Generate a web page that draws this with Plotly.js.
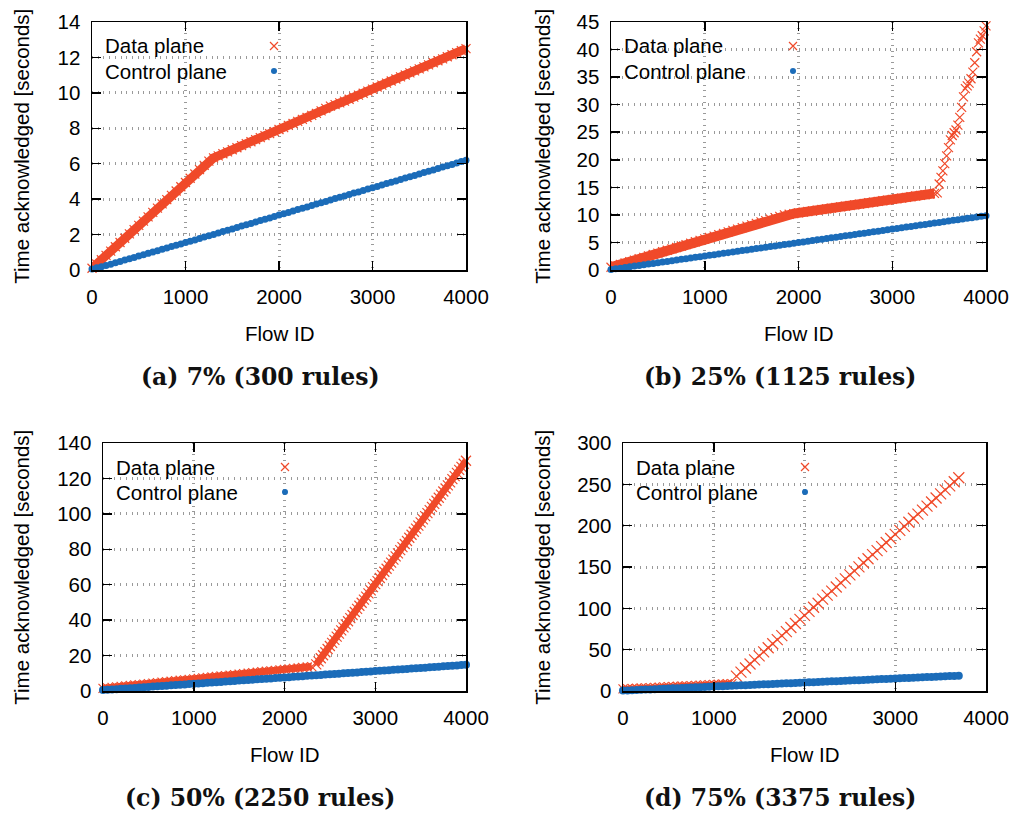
<!DOCTYPE html>
<html><head><meta charset="utf-8">
<script src="https://cdn.plot.ly/plotly-3.0.1.min.js"></script>
<style>html,body{margin:0;padding:0;background:#fff;}#chart{width:1021px;height:814px;}</style>
</head><body><div id="chart"></div>
<script>
// ---------------- data ----------------
const flowIds = [0,50,100,150,200,250,300,350,400,450,500,550,600,650,700,750,800,850,900,950,
  1000,1050,1100,1150,1200,1250,1300,1350,1400,1450,1500,1550,1600,1650,1700,1750,1800,1850,1900,1950,
  2000,2050,2100,2150,2200,2250,2300,2350,2400,2450,2500,2550,2600,2650,2700,2750,2800,2850,2900,2950,
  3000,3050,3100,3150,3200,3250,3300,3350,3400,3450,3500,3550,3600,3650,3700,3750,3800,3850,3900,3950,4000];

// (a) 7% (300 rules)
const dataA = [0.10,0.34,0.58,0.83,1.07,1.31,1.55,1.79,2.04,2.28,2.52,2.76,3.00,3.25,3.49,3.73,3.97,4.21,4.46,4.70,
  4.94,5.18,5.42,5.67,5.91,6.15,6.33,6.44,6.56,6.67,6.79,6.90,7.02,7.13,7.24,7.36,7.47,7.59,7.70,7.81,
  7.93,8.04,8.16,8.27,8.39,8.50,8.61,8.73,8.84,8.98,9.12,9.25,9.34,9.43,9.53,9.64,9.76,9.87,9.98,10.10,
  10.21,10.33,10.44,10.55,10.67,10.78,10.90,11.01,11.13,11.24,11.35,11.47,11.58,11.70,11.81,11.92,12.04,12.15,12.27,12.38,12.50];
const ctrlA = [0.05,0.12,0.19,0.26,0.33,0.41,0.48,0.56,0.63,0.71,0.79,0.86,0.94,1.01,1.09,1.17,1.24,1.32,1.40,1.47,
  1.55,1.63,1.70,1.78,1.86,1.94,2.01,2.09,2.17,2.25,2.32,2.40,2.48,2.56,2.63,2.71,2.79,2.87,2.94,3.02,
  3.10,3.17,3.25,3.33,3.41,3.48,3.56,3.64,3.72,3.79,3.87,3.95,4.03,4.10,4.18,4.26,4.34,4.41,4.49,4.57,
  4.65,4.72,4.80,4.88,4.96,5.03,5.11,5.19,5.27,5.34,5.42,5.50,5.58,5.65,5.73,5.81,5.89,5.96,6.04,6.12,6.20];

// (b) 25% (1125 rules)
const dataBFlat = [0.50,0.76,1.01,1.27,1.53,1.78,2.04,2.30,2.55,2.81,3.07,3.32,3.58,3.84,4.09,4.35,4.61,4.86,5.12,5.38,
  5.64,5.89,6.15,6.41,6.66,6.92,7.18,7.43,7.69,7.95,8.20,8.46,8.72,8.97,9.23,9.49,9.74,10.00,10.12,10.24,
  10.37,10.49,10.61,10.73,10.85,10.98,11.10,11.22,11.34,11.46,11.59,11.71,11.83,11.95,12.07,12.20,12.32,12.44,12.56,12.68,
  12.81,12.93,13.05,13.17,13.29,13.42,13.54,13.66,13.78,13.90];
const flowsBSteep = [3480,3500,3520,3540,3560,3580,3600,3620,3640,3660,3680,3700,3720,3740,3760,3780,3800,3820,3840,3860,3880,3900,3920,3940,3960,3980,4000];
const dataBSteep = [14.0,15.6,16.8,18.0,19.3,20.7,22.2,23.6,24.4,24.9,25.4,26.3,27.7,29.5,31.4,32.9,33.4,33.9,34.7,35.9,37.6,39.6,41.2,41.9,42.5,43.4,44.3];
const ctrlB = [0.10,0.22,0.34,0.47,0.59,0.71,0.83,0.95,1.08,1.20,1.32,1.44,1.56,1.69,1.81,1.93,2.05,2.17,2.30,2.42,
  2.54,2.66,2.78,2.91,3.03,3.15,3.27,3.39,3.52,3.64,3.76,3.88,4.00,4.13,4.25,4.37,4.49,4.61,4.74,4.86,
  4.98,5.10,5.22,5.35,5.47,5.59,5.71,5.83,5.96,6.08,6.20,6.32,6.44,6.57,6.69,6.81,6.93,7.05,7.18,7.30,
  7.42,7.54,7.66,7.79,7.91,8.03,8.15,8.27,8.40,8.52,8.64,8.76,8.88,9.01,9.13,9.25,9.37,9.49,9.62,9.74,9.86];

// (c) 50% (2250 rules)
const dataCFlat = [1.50,1.77,2.03,2.30,2.57,2.84,3.10,3.37,3.64,3.91,4.17,4.44,4.71,4.98,5.24,5.51,5.78,6.05,6.31,6.58,
  6.85,7.12,7.38,7.65,7.92,8.19,8.45,8.72,8.99,9.25,9.52,9.79,10.06,10.32,10.59,10.86,11.13,11.39,11.66,11.93,
  12.20,12.46,12.73,13.00,13.27,13.53,13.80];
const flowsCSteep = [2350,2375,2400,2425,2450,2475,2500,2525,2550,2575,2600,2625,2650,2675,2700,2725,2750,2775,2800,2825,
  2850,2875,2900,2925,2950,2975,3000,3025,3050,3075,3100,3125,3150,3175,3200,3225,3250,3275,3300,3325,
  3350,3375,3400,3425,3450,3475,3500,3525,3550,3575,3600,3625,3650,3675,3700,3725,3750,3775,3800,3825,
  3850,3875,3900,3925,3950,3975,4000];
const dataCSteep = [15.0,16.7,18.5,20.2,21.9,23.7,25.4,27.2,28.9,30.7,32.4,34.2,35.9,37.6,39.4,41.1,42.9,44.6,46.4,48.1,
  49.8,51.6,53.3,55.1,56.8,58.6,60.3,62.0,63.8,65.5,67.3,69.0,70.8,72.5,74.2,76.0,77.7,79.5,81.2,83.0,
  84.7,86.5,88.2,89.9,91.7,93.4,95.2,96.9,98.7,100.4,102.1,103.9,105.6,107.4,109.1,110.9,112.6,114.3,116.1,117.8,
  119.6,121.3,123.1,124.8,126.5,128.3,130.0];
const ctrlC = [0.50,0.68,0.86,1.04,1.22,1.39,1.57,1.75,1.93,2.11,2.29,2.47,2.65,2.82,3.00,3.18,3.36,3.54,3.72,3.90,
  4.08,4.25,4.43,4.61,4.79,4.97,5.15,5.33,5.51,5.68,5.86,6.04,6.22,6.40,6.58,6.76,6.94,7.11,7.29,7.47,
  7.65,7.83,8.01,8.19,8.37,8.54,8.72,8.90,9.08,9.26,9.44,9.62,9.80,9.97,10.15,10.33,10.51,10.69,10.87,11.05,
  11.23,11.40,11.58,11.76,11.94,12.12,12.30,12.48,12.66,12.83,13.01,13.19,13.37,13.55,13.73,13.91,14.09,14.26,14.44,14.62,14.80];

// (d) 75% (3375 rules)
const dataDFlat = [2.50,2.77,3.04,3.31,3.58,3.85,4.13,4.40,4.67,4.94,5.21,5.48,5.75,6.02,6.29,6.56,6.83,7.10,7.38,7.65,
  7.92,8.19,8.46,8.73,9.00];
const dataDSteep = [18.0,22.9,27.8,32.7,37.6,42.5,47.4,52.3,57.2,62.1,67.0,71.9,76.8,81.7,86.6,91.5,96.4,101.3,106.2,111.1,
  116.0,120.9,125.8,130.7,135.6,140.4,145.3,150.2,155.1,160.0,164.9,169.8,174.7,179.6,184.5,189.4,194.3,199.2,204.1,209.0,
  213.9,218.8,223.7,228.6,233.5,238.4,243.3,248.2,253.1,258.0];
const ctrlD = [0.50,0.74,0.99,1.23,1.47,1.72,1.96,2.20,2.45,2.69,2.93,3.18,3.42,3.66,3.91,4.15,4.39,4.64,4.88,5.12,
  5.37,5.61,5.85,6.09,6.34,6.58,6.82,7.07,7.31,7.55,7.80,8.04,8.28,8.53,8.77,9.01,9.26,9.50,9.74,9.99,
  10.23,10.47,10.72,10.96,11.20,11.45,11.69,11.93,12.18,12.42,12.66,12.91,13.15,13.39,13.64,13.88,14.12,14.37,14.61,14.85,
  15.10,15.34,15.58,15.82,16.07,16.31,16.55,16.80,17.04,17.28,17.53,17.77,18.01,18.26,18.50];

const captions = ['(a) 7% (300 rules)', '(b) 25% (1125 rules)', '(c) 50% (2250 rules)', '(d) 75% (3375 rules)'];
const seriesNames = ['Data plane', 'Control plane'];
const yMax = [14, 45, 140, 300];
const yStep = [2, 5, 20, 50];
const xTitle = 'Flow ID';
const yTitle = 'Time acknowledged [seconds]';

// ---------------- layout ----------------
const W = 1021, H = 814;
const RED = '#f04a2a', BLUE = '#1b6cb9';
const px = v => v / W, py = v => 1 - v / H;

// plot boxes in pixels (left, right, top, bottom)
const boxes = [
  {l: 92,  r: 466, t: 22,  b: 270},
  {l: 611, r: 986, t: 22,  b: 270},
  {l: 103, r: 466, t: 443, b: 691},
  {l: 623, r: 986, t: 443, b: 691}
];

// dense parts of the data-plane series get a solid band underneath the crosses
const dataSeries = [
  [{x: flowIds, y: dataA, band: 9, ms: 9}],
  [{x: flowIds.slice(0, 70), y: dataBFlat, band: 10, ms: 9}, {x: flowsBSteep, y: dataBSteep, band: 0, ms: 9}],
  [{x: flowIds.slice(0, 47), y: dataCFlat, band: 7, ms: 9}, {x: flowsCSteep, y: dataCSteep, band: 7, ms: 10}],
  [{x: flowIds.slice(0, 25), y: dataDFlat, band: 6, ms: 9}, {x: flowIds.slice(25, 75), y: dataDSteep, band: 0, ms: 11}]
];
const ctrlSize = [7, 7, 8, 8];
const ctrlSeries = [
  {x: flowIds, y: ctrlA},
  {x: flowIds, y: ctrlB},
  {x: flowIds, y: ctrlC},
  {x: flowIds.slice(0, 75), y: ctrlD}
];

const FONT = 'Liberation Sans, Arial, sans-serif';
const traces = [];
const layout = {
  width: W, height: H,
  margin: {l: 0, r: 0, t: 0, b: 0},
  paper_bgcolor: '#fff', plot_bgcolor: '#fff',
  showlegend: true,
  font: {family: FONT, size: 20.5, color: '#000'},
  annotations: [], shapes: []
};

boxes.forEach((bx, i) => {
  const n = i === 0 ? '' : String(i + 1);
  const xa = 'x' + n, ya = 'y' + n, lg = 'legend' + n;
  const axCommon = {
    showline: true, linecolor: '#000', linewidth: 1.5, mirror: 'allticks',
    ticks: 'inside', ticklen: 9, tickwidth: 1.5, tickcolor: '#000',
    showgrid: true, gridcolor: '#9a9a9a', gridwidth: 3, griddash: '1px,4.7px',
    zeroline: false, fixedrange: true, layer: 'above traces',
    tickfont: {family: FONT, size: 20.5, color: '#000'}
  };
  layout['xaxis' + n] = Object.assign({}, axCommon, {
    domain: [px(bx.l), px(bx.r)], anchor: ya, range: [0, 4000],
    tick0: 0, dtick: 1000, ticklabelstandoff: 8
  });
  layout['yaxis' + n] = Object.assign({}, axCommon, {
    domain: [py(bx.b), py(bx.t)], anchor: xa, range: [0, yMax[i]],
    tick0: 0, dtick: yStep[i], ticklabelstandoff: 6
  });

  let legendDone = false;
  dataSeries[i].forEach((s) => {
    if (s.band) {
      traces.push({
        type: 'scatter', mode: 'lines', x: s.x, y: s.y, xaxis: xa, yaxis: ya,
        name: seriesNames[0], showlegend: false, hoverinfo: 'skip', cliponaxis: false,
        line: {color: RED, width: s.band}
      });
    }
    traces.push({
      type: 'scatter', mode: 'markers', x: s.x, y: s.y, xaxis: xa, yaxis: ya,
      name: '', legend: lg, showlegend: false, hoverinfo: 'x+y', cliponaxis: false,
      marker: {symbol: 'x-thin-open', size: s.ms, color: RED, line: {width: 1.2, color: RED}}
    });
  });
  // legend keys (no data of their own; they only carry the key symbol style)
  traces.push({
    type: 'scatter', mode: 'markers', x: [null], y: [null], xaxis: xa, yaxis: ya,
    name: '', legend: lg, showlegend: true, hoverinfo: 'skip',
    marker: {symbol: 'x-thin-open', size: 8, color: RED, line: {width: 1.2, color: RED}}
  });
  traces.push({
    type: 'scatter', mode: 'markers', x: ctrlSeries[i].x, y: ctrlSeries[i].y, xaxis: xa, yaxis: ya,
    name: '', legend: lg, showlegend: false, hoverinfo: 'x+y', cliponaxis: false,
    marker: {symbol: 'circle', size: ctrlSize[i], color: BLUE, line: {width: 0}}
  });
  traces.push({
    type: 'scatter', mode: 'markers', x: [null], y: [null], xaxis: xa, yaxis: ya,
    name: '', legend: lg, showlegend: true, hoverinfo: 'skip',
    marker: {symbol: 'circle', size: 6, color: BLUE, line: {width: 0}}
  });

  // key: text on the left, symbol on the right (gnuplot style)
  const symX = bx.l + 182, y1 = bx.t + 24, y2 = bx.t + 49;
  layout[lg] = {
    x: px(symX - 20), xanchor: 'left', y: py(y1 - 17.55), yanchor: 'top',
    bgcolor: 'rgba(0,0,0,0)', borderwidth: 0, font: {size: 17, family: FONT},
    tracegroupgap: 0, traceorder: 'normal', itemclick: false, itemdoubleclick: false,
    itemsizing: 'trace'
  };
  layout.shapes.push({
    type: 'rect', xref: 'paper', yref: 'paper', layer: 'between',
    x0: px(bx.l + 1), x1: px(symX + 18), y0: py(bx.t + 66), y1: py(bx.t + 1),
    fillcolor: '#fff', line: {width: 0}
  });
  [y1, y2].forEach((yy, k) => layout.annotations.push({
    xref: 'paper', yref: 'paper', x: px(bx.l + 11), y: py(yy), xanchor: 'left', yanchor: 'middle',
    text: seriesNames[k], showarrow: false, font: {family: FONT, size: 20.5, color: '#000'}
  }));

  // axis titles
  layout.annotations.push({
    xref: 'paper', yref: 'paper', x: px(i % 2 === 0 ? 20.7 : 541.7), y: py((bx.t + bx.b) / 2),
    xanchor: 'center', yanchor: 'middle', textangle: -90, text: yTitle, showarrow: false,
    font: {family: FONT, size: 20.5, color: '#000'}
  });
  layout.annotations.push({
    xref: 'paper', yref: 'paper', x: px((bx.l + bx.r) / 2), y: py(bx.b + 63.5),
    xanchor: 'center', yanchor: 'middle', text: xTitle, showarrow: false,
    font: {family: FONT, size: 20.5, color: '#000'}
  });
  // caption
  layout.annotations.push({
    xref: 'paper', yref: 'paper', x: px(i % 2 === 0 ? 260 : 780), y: py(i < 2 ? 377 : 798),
    xanchor: 'center', yanchor: 'middle', text: captions[i], showarrow: false,
    font: {family: 'DejaVu Serif, serif', size: 23.5, weight: 'bold', color: '#111'}
  });
});

Plotly.newPlot('chart', traces, layout, {displayModeBar: false, staticPlot: true});
</script>
</body></html>
